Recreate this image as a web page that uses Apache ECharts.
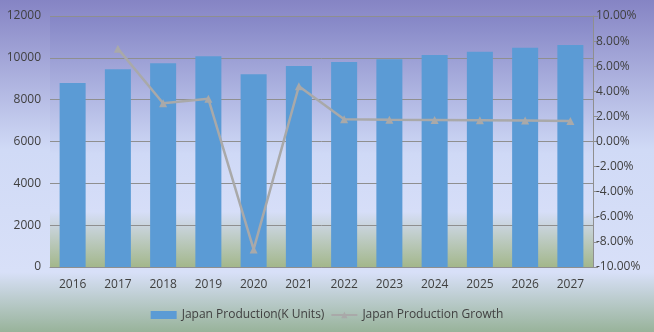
<!DOCTYPE html>
<html><head><meta charset="utf-8">
<script src="https://cdn.jsdelivr.net/npm/echarts@6/dist/echarts.min.js"></script>
<style>html,body{margin:0;padding:0;}#c{width:654px;height:332px;}</style>
</head><body><div id="c"></div>
<script>
const years = ['2016','2017','2018','2019','2020','2021','2022','2023','2024','2025','2026','2027'];
const production = [8800, 9450, 9740, 10080, 9220, 9610, 9800, 9930, 10130, 10290, 10480, 10610];
const growth = [null, 7.4, 3.05, 3.4, -8.6, 4.4, 1.78, 1.74, 1.72, 1.7, 1.68, 1.64];
const leftTicks = {min: 0, max: 12000, interval: 2000};
const rightTicks = {min: -10, max: 10, interval: 2};

const font = 'Open Sans';
const chart = echarts.init(document.getElementById('c'), null, {renderer: 'canvas'});
chart.setOption({
  animation: false,
  backgroundColor: {type: 'linear', x: 0, y: 0, x2: 0, y2: 1, colorStops: [
    {offset: 0, color: '#8584c4'},
    {offset: 0.45, color: '#d0daf6'},
    {offset: 0.82, color: '#d8e0f8'},
    {offset: 1, color: '#98b39a'}
  ]},
  grid: {left: 50, right: 61, top: 16, bottom: 65, show: true, borderWidth: 0,
    backgroundColor: {type: 'linear', x: 0, y: 0, x2: 0, y2: 1, colorStops: [
      {offset: 0, color: '#8586c6'},
      {offset: 0.55, color: '#cfd9f6'},
      {offset: 0.78, color: '#d6def8'},
      {offset: 1, color: '#a3b78b'}
    ]}},
  legend: {
    bottom: 6, left: 'center', itemGap: 6, itemWidth: 26, itemHeight: 8,
    textStyle: {color: '#404040', fontFamily: font, fontSize: 12},
    data: [
      {name: 'Japan Production(K Units)', icon: 'rect'},
      {name: 'Japan Production Growth'}
    ]
  },
  xAxis: {
    type: 'category', data: years,
    axisLine: {show: true, lineStyle: {color: '#8f8f8f', width: 1}},
    axisTick: {show: false},
    axisLabel: {color: '#404040', fontFamily: font, fontSize: 12, margin: 12}
  },
  yAxis: [
    {type: 'value', min: leftTicks.min, max: leftTicks.max, interval: leftTicks.interval,
      axisLine: {show: false}, axisTick: {show: false},
      splitLine: {show: true, lineStyle: {color: '#8f8f8f', width: 1}},
      axisLabel: {color: '#404040', fontFamily: font, fontSize: 12, margin: 9,
        formatter: v => String(v)}},
    {type: 'value', position: 'right', min: rightTicks.min, max: rightTicks.max, interval: rightTicks.interval,
      axisLine: {show: true, lineStyle: {color: '#8f8f8f', width: 1}},
      axisTick: {show: true, length: 5, lineStyle: {color: '#8f8f8f'}},
      splitLine: {show: false},
      axisLabel: {color: '#404040', fontFamily: font, fontSize: 12, margin: 3,
        formatter: v => v.toFixed(2) + '%'}}
  ],
  series: [
    {name: 'Japan Production(K Units)', type: 'bar', data: production, yAxisIndex: 0,
      barWidth: 26, itemStyle: {color: '#5b9bd5'}},
    {name: 'Japan Production Growth', type: 'line', data: growth, yAxisIndex: 1,
      symbol: 'triangle', symbolSize: 8, connectNulls: false,
      lineStyle: {color: '#a9a9a9', width: 2.5},
      itemStyle: {color: '#a9a9a9'}}
  ]
});
</script></body></html>
